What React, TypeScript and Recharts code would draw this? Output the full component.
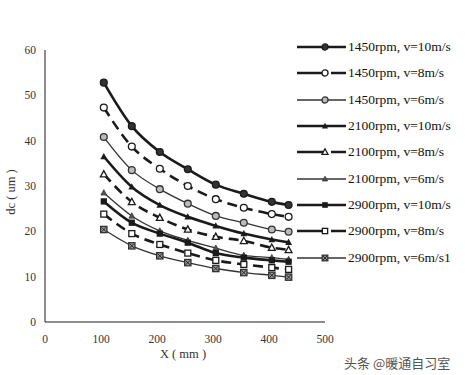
import { LineChart, Line, XAxis, YAxis, Legend, Label } from "recharts"

// distance X (mm) and particle size dc (um)
const xValues = [105, 155, 205, 255, 305, 355, 405, 435]
const s1450v10 = [52.8, 43.2, 37.5, 33.7, 30.3, 28.3, 26.5, 25.8]
const s1450v8 = [47.3, 38.7, 33.8, 30.0, 27.1, 25.2, 23.8, 23.2]
const s1450v6 = [40.8, 33.5, 29.3, 26.1, 23.4, 21.9, 20.4, 19.9]
const s2100v10 = [36.5, 29.8, 25.8, 23.2, 21.2, 19.5, 18.2, 17.6]
const s2100v8 = [32.6, 26.5, 23.0, 20.4, 18.8, 17.9, 16.4, 15.9]
const s2100v6 = [28.5, 23.4, 20.1, 18.0, 16.3, 14.7, 14.2, 13.8]
const s2900v10 = [26.6, 21.9, 19.5, 17.5, 15.2, 14.2, 13.6, 13.3]
const s2900v8 = [23.8, 19.5, 17.1, 15.2, 13.6, 12.7, 12.0, 11.6]
const s2900v6 = [20.4, 16.8, 14.6, 13.1, 11.8, 10.9, 10.3, 9.9]

const xTicks = [0, 100, 200, 300, 400, 500]
const yTicks = [0, 10, 20, 30, 40, 50, 60]

type Marker = "dotFill" | "circleOpen" | "circleRing" | "triFill" | "triOpen" | "triSmall" | "sqFill" | "sqOpen" | "sqCross"
type Style = "thick" | "dash" | "thin"

const series: { key: string; name: string; values: number[]; marker: Marker; style: Style }[] = [
  { key: "a", name: "1450rpm, v=10m/s", values: s1450v10, marker: "dotFill", style: "thick" },
  { key: "b", name: "1450rpm, v=8m/s", values: s1450v8, marker: "circleOpen", style: "dash" },
  { key: "c", name: "1450rpm, v=6m/s", values: s1450v6, marker: "circleRing", style: "thin" },
  { key: "d", name: "2100rpm, v=10m/s", values: s2100v10, marker: "triFill", style: "thick" },
  { key: "e", name: "2100rpm, v=8m/s", values: s2100v8, marker: "triOpen", style: "dash" },
  { key: "f", name: "2100rpm, v=6m/s", values: s2100v6, marker: "triSmall", style: "thin" },
  { key: "g", name: "2900rpm, v=10m/s", values: s2900v10, marker: "sqFill", style: "thick" },
  { key: "h", name: "2900rpm, v=8m/s", values: s2900v8, marker: "sqOpen", style: "dash" },
  { key: "i", name: "2900rpm, v=6m/s1", values: s2900v6, marker: "sqCross", style: "thin" },
]

const data = xValues.map((x, i) => {
  const row: Record<string, number> = { x }
  series.forEach((s) => (row[s.key] = s.values[i]))
  return row
})

const ink = "#1a1a1a"

const lineProps = (style: Style) => {
  if (style === "thick") return { strokeWidth: 2.6, stroke: ink }
  if (style === "dash") return { strokeWidth: 2.6, stroke: ink, strokeDasharray: "10 6" }
  return { strokeWidth: 1.3, stroke: "#333" }
}

const drawMarker = (m: Marker, cx: number, cy: number, key?: string, k = 0.9) => {
  const sw = 1.3
  const r = 3.8 * k
  switch (m) {
    case "dotFill":
      return <circle key={key} cx={cx} cy={cy} r={r} fill="#333" stroke={ink} strokeWidth={sw} />
    case "circleOpen":
      return <circle key={key} cx={cx} cy={cy} r={r} fill="#fff" stroke={ink} strokeWidth={sw} />
    case "circleRing":
      return <circle key={key} cx={cx} cy={cy} r={r} fill="#bbb" stroke="#333" strokeWidth={sw} />
    case "triFill":
      return <polygon key={key} points={`${cx},${cy - 4 * k} ${cx - r},${cy + 3 * k} ${cx + r},${cy + 3 * k}`} fill={ink} />
    case "triOpen":
      return <polygon key={key} points={`${cx},${cy - 4 * k} ${cx - r},${cy + 3 * k} ${cx + r},${cy + 3 * k}`} fill="#fff" stroke={ink} strokeWidth={sw} />
    case "triSmall":
      return <polygon key={key} points={`${cx},${cy - 3.5 * k} ${cx - 3.2 * k},${cy + 2.5 * k} ${cx + 3.2 * k},${cy + 2.5 * k}`} fill="#555" stroke="#333" strokeWidth={0.8} />
    case "sqFill":
      return <rect key={key} x={cx - 3.5 * k} y={cy - 3.5 * k} width={7 * k} height={7 * k} fill={ink} />
    case "sqOpen":
      return <rect key={key} x={cx - 3.3 * k} y={cy - 3.3 * k} width={6.6 * k} height={6.6 * k} fill="#fff" stroke={ink} strokeWidth={sw} />
    default:
      return (
        <g key={key}>
          <rect x={cx - 3.5 * k} y={cy - 3.5 * k} width={7 * k} height={7 * k} fill="#999" stroke="#333" strokeWidth={sw} />
          <path d={`M${cx - 2.5 * k},${cy - 2.5 * k}L${cx + 2.5 * k},${cy + 2.5 * k}M${cx + 2.5 * k},${cy - 2.5 * k}L${cx - 2.5 * k},${cy + 2.5 * k}`} stroke="#222" strokeWidth={1} />
        </g>
      )
  }
}

const ChartLegend = () => (
  <div>
    {series.map((s) => (
      <div key={s.key} style={{ display: "flex", alignItems: "center", height: 26.3 }}>
        <svg width={49} height={12}>
          <line x1={0} y1={6} x2={49} y2={6} {...lineProps(s.style)} strokeDasharray={s.style === "dash" ? "28 6 20" : undefined} />
          {drawMarker(s.marker, 28, 6, undefined, 0.8)}
        </svg>
        <span style={{ marginLeft: 2, fontFamily: "'Liberation Serif', serif", fontSize: 13.5, color: "#111", whiteSpace: "nowrap" }}>
          {s.name}
        </span>
      </div>
    ))}
  </div>
)

const tickStyle = { fontFamily: "'Liberation Serif', serif", fontSize: 11.5, fill: "#333" }

const App = () => {
  return (
    <div style={{ position: "absolute", left: 0, top: 0, width: 465, height: 375, background: "#fff" }}>
      <LineChart width={465} height={375} data={data} margin={{ top: 50, right: 140, bottom: 23, left: 0 }}>
        <XAxis
          dataKey="x"
          type="number"
          domain={[0, 500]}
          ticks={xTicks}
          stroke={ink}
          tickSize={0}
          tickMargin={13}
          tick={tickStyle}
          height={30}
        >
          <Label
            content={() => (
              <text x={183} y={358} textAnchor="middle" style={{ fontFamily: "'Liberation Serif', serif", fontSize: 12.5, fill: "#333" }}>
                X ( mm )
              </text>
            )}
          />
        </XAxis>
        <YAxis
          type="number"
          domain={[0, 60]}
          ticks={yTicks}
          stroke={ink}
          tickSize={0}
          tickMargin={9}
          tick={tickStyle}
          width={45}
        >
          <Label
            content={() => (
              <text
                x={15}
                y={192}
                transform="rotate(-90 15 192)"
                textAnchor="middle"
                style={{ fontFamily: "'Liberation Serif', serif", fontSize: 12.5, fill: "#333" }}
              >
                dc ( um )
              </text>
            )}
          />
        </YAxis>
        {series.map((s) => (
          <Line
            key={s.key}
            dataKey={s.key}
            name={s.name}
            type="monotone"
            {...lineProps(s.style)}
            dot={(p: any) => drawMarker(s.marker, p.cx, p.cy, `${s.key}-${p.index}`)}
            activeDot={false}
            isAnimationActive={false}
          />
        ))}
        <Legend
          layout="vertical"
          align="center"
          verticalAlign="middle"
          content={() => <ChartLegend />}
          wrapperStyle={{ left: 297, top: 34, width: 168, height: 240 }}
        />
      </LineChart>
      <div
        style={{
          position: "absolute",
          left: 344,
          top: 353,
          fontFamily: "'Noto Sans CJK SC', sans-serif",
          fontSize: 13,
          color: "#555",
          whiteSpace: "nowrap",
        }}
      >
        头条 @暖通自习室
      </div>
    </div>
  )
}

export default App
